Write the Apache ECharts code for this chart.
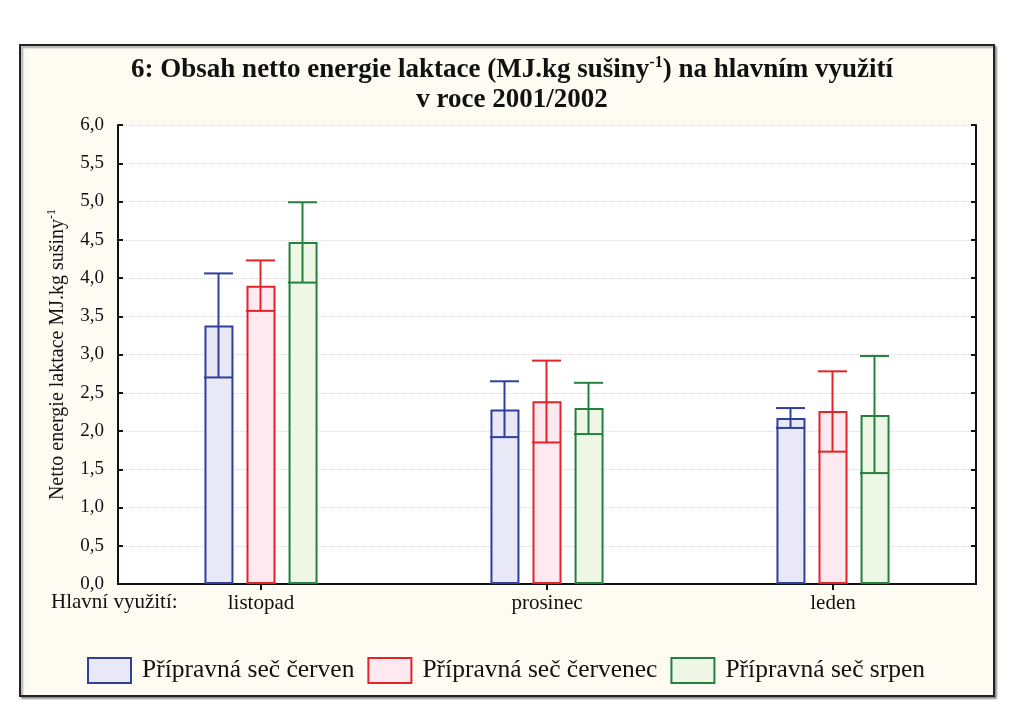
<!DOCTYPE html>
<html>
<head>
<meta charset="utf-8">
<script src="https://cdn.jsdelivr.net/npm/echarts@6/dist/echarts.min.js"></script>
<style>
  html, body { margin: 0; padding: 0; background: #fff; }
  #chart { width: 1024px; height: 711px; }
</style>
</head>
<body>
<div id="chart"></div>
<script>
// months of main use
const categories = ['listopad', 'prosinec', 'leden']
const seriesNames = ['Přípravná seč červen', 'Přípravná seč červenec', 'Přípravná seč srpen']
// mean values
const cerven = [3.38, 2.28, 2.17]
const cervenec = [3.90, 2.39, 2.26]
const srpen = [4.47, 2.30, 2.21]
// error bar ends (low / high)
const cervenLow = [2.70, 1.92, 2.04]
const cervenHigh = [4.06, 2.65, 2.30]
const cervenecLow = [3.57, 1.85, 1.73]
const cervenecHigh = [4.23, 2.92, 2.78]
const srpenLow = [3.94, 1.96, 1.45]
const srpenHigh = [4.99, 2.63, 2.98]
const yTicks = ['0,0', '0,5', '1,0', '1,5', '2,0', '2,5', '3,0', '3,5', '4,0', '4,5', '5,0', '5,5', '6,0']

const strokes = ['#2e3f9c', '#e0242a', '#24803c']
const fills = ['#e8e8f7', '#fde9ef', '#eef6e5']
const means = [cerven, cervenec, srpen]
const lows = [cervenLow, cervenecLow, srpenLow]
const highs = [cervenHigh, cervenecHigh, srpenHigh]

const BAR_W = 29
const BAR_STEP = 42
const serif = '"Liberation Serif", "DejaVu Serif", serif'

const chart = echarts.init(document.getElementById('chart'))

const barSeries = seriesNames.map((name, i) => ({
  name: name,
  type: 'bar',
  barWidth: BAR_W,
  barGap: '45%',
  data: means[i],
  itemStyle: { color: fills[i], borderColor: strokes[i], borderWidth: 2 },
  emphasis: { disabled: true },
  z: 2
}))

const errorSeries = seriesNames.map((name, i) => ({
  type: 'custom',
  name: name + ' err',
  data: categories.map((c, k) => [k, lows[i][k], highs[i][k]]),
  z: 5,
  renderItem: function (params, api) {
    const lo = api.coord([api.value(0), api.value(1)])
    const hi = api.coord([api.value(0), api.value(2)])
    const x = lo[0] + (i - 1) * BAR_STEP - 0.5
    const half = BAR_W / 2
    const style = { stroke: strokes[i], lineWidth: 2, fill: null }
    return {
      type: 'group',
      children: [
        { type: 'line', shape: { x1: x, y1: lo[1], x2: x, y2: hi[1] }, style: style },
        { type: 'line', shape: { x1: x - half, y1: hi[1], x2: x + half, y2: hi[1] }, style: style },
        { type: 'line', shape: { x1: x - half, y1: lo[1], x2: x + half, y2: lo[1] }, style: style }
      ]
    }
  }
}))

const option = {
  backgroundColor: '#ffffff',
  animation: false,
  graphic: [
    {
      type: 'rect', z: -10,
      shape: { x: 20, y: 45, width: 974, height: 651 },
      style: { fill: '#fdfbf2', stroke: '#222', lineWidth: 2, shadowColor: 'rgba(0,0,0,0.35)', shadowOffsetX: 2, shadowOffsetY: 2, shadowBlur: 2 }
    },
    {
      type: 'rect', z: -5,
      shape: { x: 118, y: 125, width: 858, height: 459 },
      style: { fill: '#ffffff' }
    },
    {
      type: 'text', left: 51, top: 592,
      style: { text: 'Hlavní využití:', font: '21px ' + serif, fill: '#111' }
    }
  ],
  title: {
    left: 'center',
    top: 55,
    padding: 0,
    text: '{a|6: Obsah netto energie laktace (MJ.kg sušiny}{s|-1}{a|) na hlavním využití}\n{a|v roce 2001/2002}',
    textStyle: {
      rich: {
        a: { fontFamily: serif, fontWeight: 'bold', fontSize: 27, lineHeight: 30, color: '#111' },
        s: { fontFamily: serif, fontWeight: 'bold', fontSize: 16, lineHeight: 30, verticalAlign: 'top', padding: [0, 0, 12, 0], color: '#111' }
      }
    }
  },
  legend: {
    left: 87,
    top: 657,
    padding: 0,
    itemWidth: 43,
    itemHeight: 25,
    itemGap: 13,
    icon: 'rect',
    textStyle: { fontFamily: serif, fontSize: 25.5, color: '#111', padding: [0, 0, 0, 6] },
    data: seriesNames.map((n, i) => ({
      name: n,
      itemStyle: { color: fills[i], borderColor: strokes[i], borderWidth: 2 }
    }))
  },
  grid: { left: 118, right: 48, top: 125, bottom: 127 },
  xAxis: [
    {
      type: 'category',
      data: categories,
      axisLine: { lineStyle: { color: '#111', width: 2 } },
      axisTick: { show: true, alignWithLabel: true, inside: true, length: 4, lineStyle: { color: '#111', width: 2 } },
      axisLabel: { fontFamily: serif, fontSize: 21, color: '#111', margin: 9 },
      splitLine: { show: false }
    },
    {
      type: 'category',
      position: 'top',
      data: categories,
      axisLine: { lineStyle: { color: '#111', width: 2 } },
      axisTick: { show: true, alignWithLabel: true, inside: true, length: 6, lineStyle: { color: '#111', width: 2 } },
      axisLabel: { show: false }
    }
  ],
  yAxis: [
    {
      type: 'value',
      min: 0,
      max: 6,
      interval: 0.5,
      name: '{n|Netto energie laktace MJ.kg sušiny}{s|-1}',
      nameLocation: 'middle',
      nameGap: 48,
      nameTextStyle: {
        rich: {
          n: { fontFamily: serif, fontSize: 20, lineHeight: 24, color: '#111' },
          s: { fontFamily: serif, fontSize: 12, lineHeight: 24, verticalAlign: 'top', padding: [0, 0, 8, 0], color: '#111' }
        }
      },
      axisLine: { show: true, lineStyle: { color: '#111', width: 2 } },
      axisTick: { show: true, inside: true, length: 5, lineStyle: { color: '#111', width: 2 } },
      axisLabel: {
        fontFamily: serif, fontSize: 19, color: '#111', margin: 14,
        formatter: function (v) { return yTicks[Math.round(v * 2)] }
      },
      splitLine: { show: true, lineStyle: { color: '#d8d8d8', type: 'dotted', width: 1 } }
    },
    {
      type: 'value',
      position: 'right',
      min: 0,
      max: 6,
      interval: 0.5,
      axisLine: { show: true, lineStyle: { color: '#111', width: 2 } },
      axisTick: { show: true, inside: true, length: 5, lineStyle: { color: '#111', width: 2 } },
      axisLabel: { show: false },
      splitLine: { show: false }
    }
  ],
  series: barSeries.concat(errorSeries)
}

chart.setOption(option)
</script>
</body>
</html>
